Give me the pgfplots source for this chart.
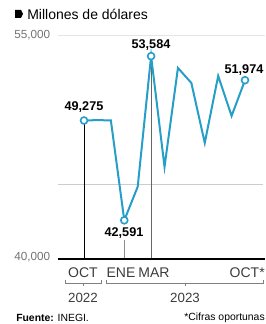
\documentclass[border=0pt]{standalone}
\usepackage{pgfplots}
\pgfplotsset{compat=1.18}
\usepackage{fontspec}
\setmainfont{Liberation Sans}
\definecolor{linec}{RGB}{38,158,200}
\definecolor{txt}{RGB}{60,60,60}
\begin{document}
\begin{tikzpicture}
\useasboundingbox (0pt,0pt) rectangle (198.75pt,-243pt);
\begin{axis}[at={(43.5pt,-194.25pt)}, anchor=south west, scale only axis,
  width=155.25pt, height=168pt,
  xmin=-1.94, xmax=13.49, ymin=40000, ymax=55000,
  axis lines=none, xtick=\empty, ytick=\empty, clip=false]
\draw[black!10, line width=0.6pt] (axis cs:-1.94,55000) -- (axis cs:13.49,55000);
\draw[black!20, line width=0.9pt] (axis cs:-1.94,45000) -- (axis cs:13.35,45000);
\draw[black, line width=0.6pt] (axis cs:0,49275) -- (axis cs:0,40000);
\draw[black!45, line width=0.6pt] (axis cs:3,41300) -- (axis cs:3,40000);
\draw[black!60, line width=0.6pt] (axis cs:5,53584) -- (axis cs:5,40000);
\addplot[linec, line width=1.5pt, mark=none] coordinates {
(0,49275) (1,49300) (2,49280) (3,42591) (4,44833) (5,53584) (6,46171)
(7,52793) (8,51789) (9,47776) (10,52258) (11,49582) (12,51974)};
\addplot[linec, line width=1.2pt, only marks, mark=*, mark size=2.6pt, mark options={fill=white, draw=linec}] coordinates {
(0,49275) (3,42591) (5,53584) (12,51974)};
\draw[black, line width=1.8pt] (axis cs:-1.94,40000) -- (axis cs:13.49,40000);
\end{axis}
\begin{scope}[x=0.75pt,y=-0.75pt]
% title
\fill[black] (15,10) -- (21,10) -- (23,14) -- (21,18) -- (15,18) -- cycle;
\node[anchor=base west, inner sep=0pt, font=\fontsize{10.5pt}{12pt}\selectfont] at (27,20) {Millones de dólares};
% y labels
\node[anchor=west, inner sep=0pt, text=black!55, font=\fontsize{8.8pt}{10pt}\selectfont] at (14,35.5) {55,000};
\node[anchor=west, inner sep=0pt, text=black!55, font=\fontsize{8.8pt}{10pt}\selectfont] at (14,257.5) {40,000};
% data labels
\node[inner sep=0pt, font=\fontsize{9.5pt}{11pt}\selectfont\bfseries] at (84,107.5) {49,275};
\node[inner sep=0pt, font=\fontsize{9.5pt}{11pt}\selectfont\bfseries] at (124,233) {42,591};
\node[inner sep=0pt, font=\fontsize{9.5pt}{11pt}\selectfont\bfseries] at (151,45) {53,584};
\node[inner sep=0pt, font=\fontsize{9.5pt}{11pt}\selectfont\bfseries] at (244,70) {51,974};
% x labels
\node[inner sep=0pt, text=txt, font=\fontsize{10.5pt}{12pt}\selectfont] at (83,273) {OCT};
\node[inner sep=0pt, text=txt, font=\fontsize{10.5pt}{12pt}\selectfont] at (121,273) {ENE};
\node[inner sep=0pt, text=txt, font=\fontsize{10.5pt}{12pt}\selectfont] at (154,273) {MAR};
\node[anchor=east, inner sep=0pt, text=txt, font=\fontsize{10.5pt}{12pt}\selectfont] at (265,273) {OCT*};
% brackets
\draw[black!50, line width=0.6pt] (65,280) -- (65,283) -- (101,283) -- (101,280);
\draw[black!50, line width=0.6pt] (83,283) -- (83,286);
\draw[black!50, line width=0.6pt] (106,280) -- (106,283) -- (263,283) -- (263,280);
\draw[black!50, line width=0.6pt] (185,283) -- (185,286);
\node[inner sep=0pt, text=txt, font=\fontsize{10pt}{12pt}\selectfont] at (83,298) {2022};
\node[inner sep=0pt, text=txt, font=\fontsize{10pt}{12pt}\selectfont] at (185,298) {2023};
% footer
\node[anchor=west, inner sep=0pt, font=\fontsize{7.8pt}{9pt}\selectfont] at (16,318) {\textbf{Fuente:} INEGI.};
\node[anchor=east, inner sep=0pt, font=\fontsize{7.8pt}{9pt}\selectfont] at (265,318) {*Cifras oportunas};
\end{scope}
\end{tikzpicture}
\end{document}
